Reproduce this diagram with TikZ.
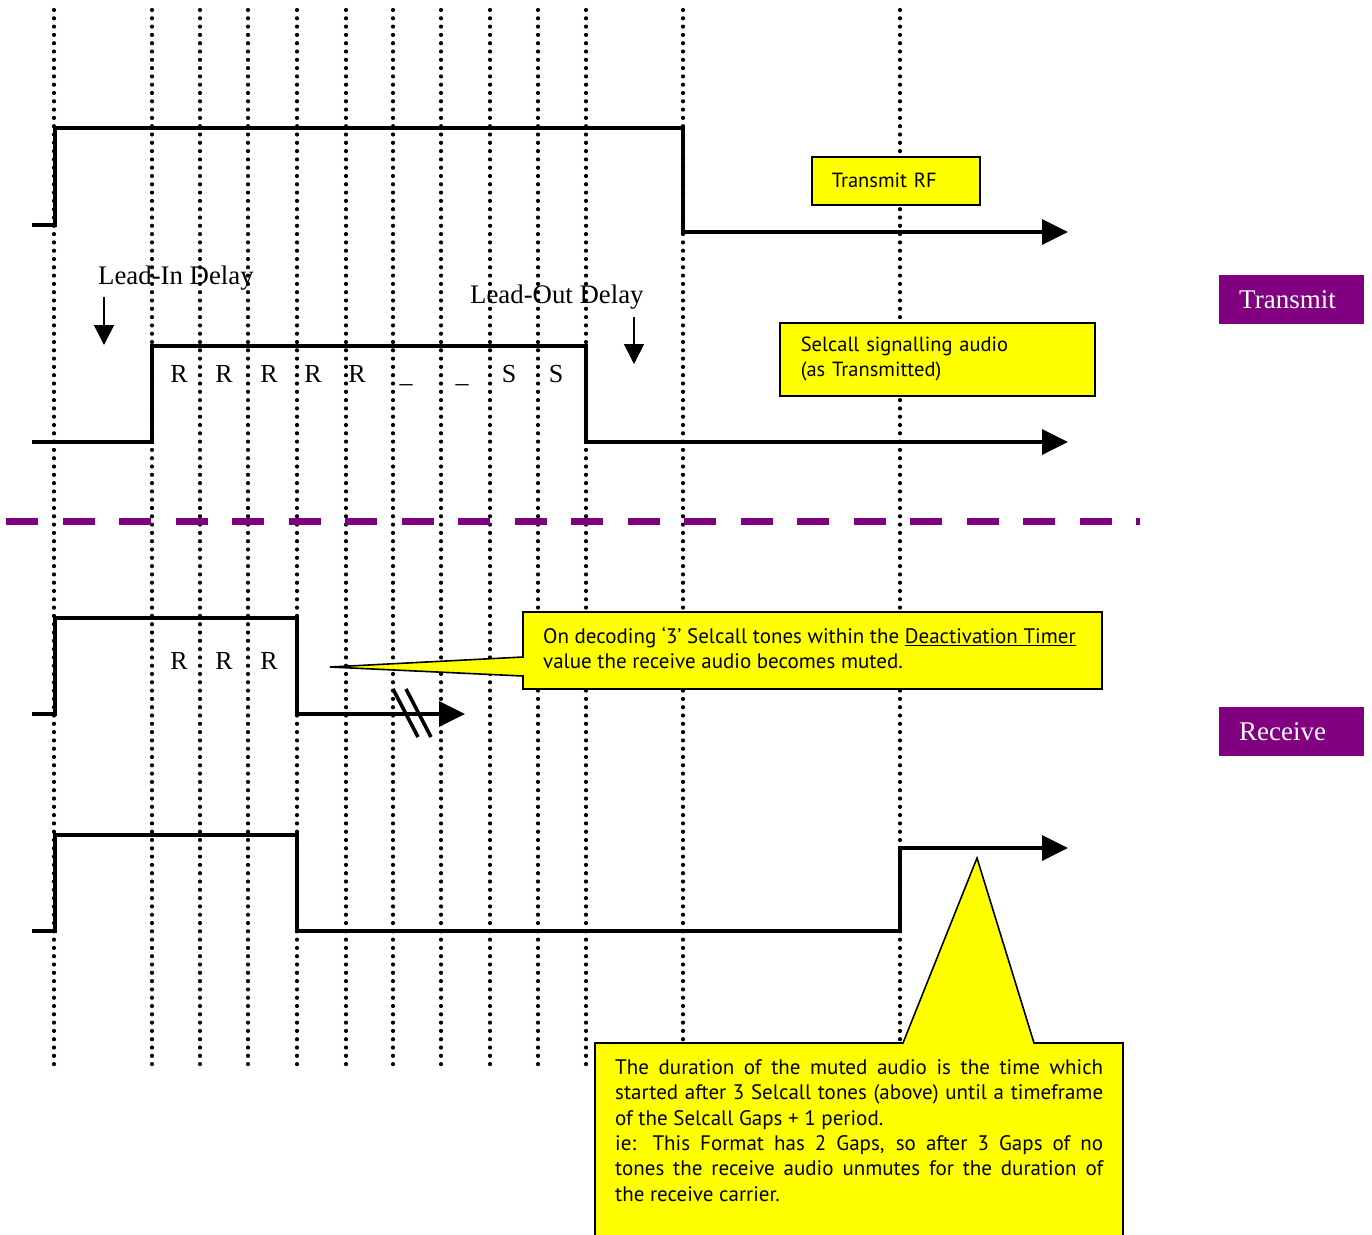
\documentclass[tikz,border=0pt]{standalone}
\usepackage{fontspec}
\setmainfont{Liberation Serif}
\newfontfamily\boxfont{PT Sans}
\usetikzlibrary{arrows.meta}
\definecolor{notefill}{HTML}{FFFF00}
\definecolor{tagpurple}{HTML}{800080}

\begin{document}
\begin{tikzpicture}[x=1pt,y=-1pt,>={Triangle[length=26pt,width=25pt]},
    sig/.style={line width=3.6pt},
    grid/.style={line width=4.2pt,line cap=round,dash pattern=on 0pt off 8.3pt},
    delay/.style={line width=1.7pt,-{Triangle[length=20pt,width=20pt]}},
    tone/.style={inner sep=0pt,anchor=base,font=\fontsize{26}{30}\selectfont},
    lbl/.style={inner sep=0pt,anchor=base west,font=\fontsize{26.8}{30}\selectfont},
    note/.style={inner sep=0pt,anchor=north west,align=left,font=\boxfont\fontsize{21}{25.3}\selectfont},
    notebox/.style={draw,line width=1.6pt,fill=notefill},
    tag/.style={fill=tagpurple,text=white,anchor=north west,minimum height=49pt,text width=105pt,
      inner xsep=20pt,inner ysep=0pt,align=left,font=\fontsize{27}{30}\selectfont}]
  \useasboundingbox (0,0) rectangle (1372,1234);
  \foreach \x in {54,152,200,248,297,346,393,441,490,538,586,683,900}
    \draw[grid] (\x,10) -- (\x,1070);
  \draw[sig,->] (32,225) -| (55,128) -| (683,232) -- (1068,232);
  \draw[sig,->] (32,442) -| (152,346) -| (586,442) -- (1068,442);
  \draw[sig,->] (32,714) -| (55,618) -| (297,714) -- (465,714);
  \draw[sig] (393,689) -- (418,737) (406,689) -- (431,737);
  \draw[sig,->] (32,931) -| (55,835) -| (297,931) -| (900,848) -- (1068,848);
  \draw[tagpurple,line width=7pt,dash pattern=on 32pt off 24.5pt] (6,521) -- (1140,521);

  \node[lbl] (leadin) at (98,284) {Lead-In Delay};
  \node[lbl] (leadout) at (470,303) {Lead-Out Delay};
  \coordinate (li1) at (104,297);
  \coordinate (li2) at (104,345);
  \coordinate (lo1) at (634,317);
  \coordinate (lo2) at (634,364);
  \draw[delay] (li1) -- (li2);
  \draw[delay] (lo1) -- (lo2);
  \foreach \x/\t [count=\i] in {179/R,224/R,269/R,313/R,357/R,406/\_,462/\_,509/S,556/S}
    \node[tone] (tx\i) at (\x,382) {\t};
  \foreach \x [count=\i] in {179,224,269}
    \node[tone] (rx\i) at (\x,669) {R};

  \node[notebox,note,anchor=north west,minimum height=48pt,text width=128pt,
    inner xsep=20pt,inner ysep=0pt,font=\boxfont\fontsize{20.5}{25.3}\selectfont] (rfbox) at (811,156) {Transmit RF};
  \node[notebox,note,anchor=north west,minimum height=73pt,text width=273pt,
    inner xsep=21pt,inner ysep=0pt,font=\boxfont\fontsize{20.5}{25.3}\selectfont] (audiobox) at (779,322) {Selcall signalling audio\\(as Transmitted)};
  \node[tag] (txtag) at (1219,275) {Transmit};
  \node[tag] (rxtag) at (1219,707) {Receive};

  \draw[notebox] (523,612) -- (1102,612) -- (1102,689) -- (523,689) -- (523,676)
    -- (330,667) -- (523,657) -- cycle;
  \node[note] (mutenote) at (543,627) {On decoding ‘3’ Selcall tones within the \underline{Deactivation Timer}\\
    value the receive audio becomes muted.};
  \draw[notebox] (595,1236) -- (595,1043) -- (903,1043) -- (977,858) -- (1034,1043)
    -- (1123,1043) -- (1123,1236);
  \node[note,text width=488pt,align=justify] (unmutenote) at (615,1059.5) {The duration of the muted audio is the time which\linebreak
    started after 3 Selcall tones (above) until a timeframe\linebreak
    of the Selcall Gaps + 1 period.\\
    ie: This Format has 2 Gaps, so after 3 Gaps of no\linebreak
    tones the receive audio unmutes for the duration of\linebreak
    the receive carrier.};
\end{tikzpicture}
\end{document}
